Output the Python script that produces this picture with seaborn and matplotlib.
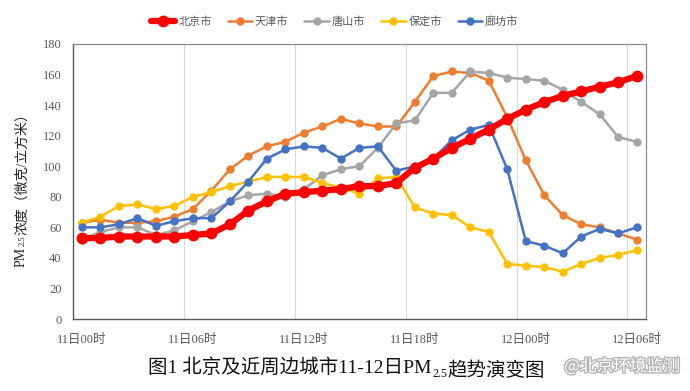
import matplotlib
matplotlib.use("Agg")

import matplotlib.pyplot as plt
import matplotlib.patheffects as pe
import seaborn as sns


# hourly categories, 11日00时 .. 12日06时
hours = [f"11日{h:02d}时" for h in range(24)] + [f"12日{h:02d}时" for h in range(7)]

beijing = [53, 53, 54, 54, 54, 54, 55, 56, 62, 71, 77, 82, 83, 84, 85, 87,
           87, 89, 99, 105, 112, 118, 124, 131, 137, 142, 146, 149, 152, 155, 159]
tianjin = [63, 65, 63, 63, 64, 67, 72, 84, 98, 107, 113, 116, 122, 126, 131, 128,
           126, 126, 142, 159, 162, 161, 156, 132, 104, 81, 68, 62, 60, 56, 52]
tangshan = [52, 57, 60, 60, 55, 58, 64, 70, 77, 81, 82, 80, 85, 94, 98, 100,
            112, 128, 130, 148, 148, 162, 161, 158, 157, 156, 150, 142, 134, 119, 116]
baoding = [63, 67, 74, 75, 72, 74, 80, 83, 87, 90, 93, 93, 93, 89, 86, 82,
           92, 93, 73, 69, 68, 60, 57, 36, 35, 34, 31, 36, 40, 42, 45]
langfang = [60, 60, 62, 66, 61, 64, 66, 66, 77, 90, 105, 111, 113, 112, 105, 112,
            113, 97, 100, 105, 117, 124, 127, 98, 51, 48, 43, 54, 59, 56, 60]

series = [
    ("北京市", beijing, "#FF0000", 4.5, 8.5),
    ("天津市", tianjin, "#ED7D31", 1.8, 6),
    ("唐山市", tangshan, "#A5A5A5", 1.8, 6),
    ("保定市", baoding, "#FFC000", 1.8, 6),
    ("廊坊市", langfang, "#4472C4", 1.8, 6),
]

sns.set_theme(style="white")
FONTS = ["Liberation Serif", "Noto Sans CJK SC", "DejaVu Sans"]
plt.rcParams["font.family"] = FONTS
plt.rcParams["axes.unicode_minus"] = False

fig = plt.figure(figsize=(6.9, 3.91), dpi=100)
ax = fig.add_axes([0.1054, 0.1841, 0.8308, 0.7034])

x = list(range(len(hours)))
# draw Beijing last so the thick red line sits on top
for k in [1, 2, 3, 4, 0]:
    name, vals, color, lw, ms = series[k]
    sns.lineplot(x=x, y=vals, ax=ax, color=color, linewidth=lw, marker="o",
                 markersize=ms, markeredgewidth=0, label=name, zorder=3 + (k == 0))

ax.set_xlim(-0.5, len(hours) - 0.5)
ax.set_ylim(0, 180)
ax.set_yticks(range(0, 181, 20))
ax.set_xticks(x[::6])
ax.set_xticklabels(hours[::6])
bounds = [i - 0.5 for i in x[::6]]
ax.set_xticks(bounds, minor=True)
for b in bounds[1:]:
    ax.axvline(b, color="#D9D9D9", linewidth=0.8, zorder=1)

ax.tick_params(axis="x", which="major", length=0, pad=11, labelsize=9, colors="#595959")
ax.tick_params(axis="x", which="minor", length=4, width=0.8, color="#595959", direction="out")
ax.tick_params(axis="y", length=4, width=0.8, color="#595959", direction="out",
               labelsize=9, labelcolor="#595959", pad=4)
ax.set_xlabel("")
ax.set_ylabel("")
for side in ["top", "right"]:
    ax.spines[side].set_color("#8C8C8C")
    ax.spines[side].set_linewidth(0.9)
for side in ["left", "bottom"]:
    ax.spines[side].set_color("#595959")
    ax.spines[side].set_linewidth(1.0)

# legend in the original series order
handles, labels = ax.get_legend_handles_labels()
lookup = dict(zip(labels, handles))
names = [s[0] for s in series]
ax.get_legend().remove()
fig.legend([lookup[n] for n in names], names, loc="center", bbox_to_anchor=(0.485, 0.944),
           ncol=5, frameon=False, fontsize=8, handlelength=2.2, columnspacing=1.45,
           handletextpad=0.25, labelcolor="#595959")


def chain(parts, x0, y0, size, rotation=0, color="#000000"):
    """Place text pieces one after another; parts = (text, is_subscript)."""
    last = None
    for text, sub in parts:
        fs = size * 0.62 if sub else size
        if rotation == 0:
            off = (0.5, -size * 0.12) if sub else (0, 0)
            kw = dict(ha="left", va="bottom")
            xy = (1, 0)
        else:
            off = (size * 0.16, 0.5) if sub else (0, 0)
            kw = dict(ha="center", va="bottom")
            xy = (0.5, 1)
        if last is None:
            last = fig.text(x0, y0, text, fontsize=fs, rotation=rotation, color=color, **kw)
        else:
            last = ax.annotate(text, xy=xy, xycoords=last, xytext=off,
                               textcoords="offset points", fontsize=fs,
                               rotation=rotation, color=color, annotation_clip=False, **kw)
    return last


chain([("PM", False), ("2.5", True), ("浓度（微克/立方米）", False)],
      0.03, 0.317, 10, rotation=90, color="#262626")
chain([("图1 北京及近周边城市11-12日PM", False), ("2.5", True), ("趋势演变图", False)],
      0.215, 0.035, 14, color="#111111")

fig.text(0.985, 0.04, "@北京环境监测", ha="right", va="bottom", fontsize=12,
         color="#FFFFFF", family=["Noto Sans CJK SC"],
         path_effects=[pe.withStroke(linewidth=2, foreground="#B5B5B5")])

fig.savefig("out.png", dpi=100)
